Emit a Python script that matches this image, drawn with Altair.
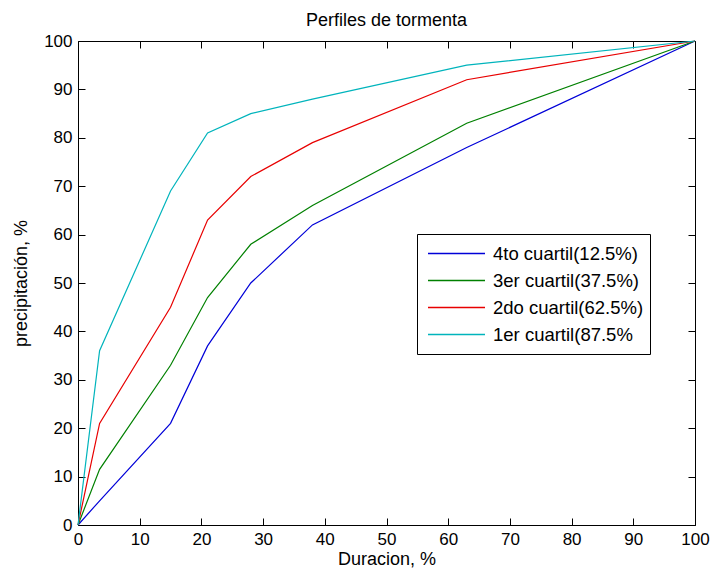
import altair as alt
import pandas as pd

# ---- data ----
duracion = [0, 3.5, 15, 21, 28, 38, 63, 100]
q4 = [0, 5, 21, 37, 50, 62, 78, 100]
q3 = [0, 11.5, 33, 47, 58, 66, 83, 100]
q2 = [0, 21, 45, 63, 72, 79, 92, 100]
q1 = [0, 36, 69, 81, 85, 88, 95, 100]
series_names = ["4to cuartil(12.5%)", "3er cuartil(37.5%)",
                "2do cuartil(62.5%)", "1er cuartil(87.5%"]
series_colors = ["#0000d8", "#008000", "#e80000", "#00b4bc"]
x_ticks = [0, 10, 20, 30, 40, 50, 60, 70, 80, 90, 100]
y_ticks = [0, 10, 20, 30, 40, 50, 60, 70, 80, 90, 100]

rows = []
for name, vals in zip(series_names, [q4, q3, q2, q1]):
    for i, (xv, yv) in enumerate(zip(duracion, vals)):
        rows.append({"serie": name, "orden": i, "duracion": xv, "precip": yv})
df = pd.DataFrame(rows)

FONT = "Liberation Sans"
xscale = alt.Scale(domain=[0, 100], nice=False)
yscale = alt.Scale(domain=[0, 100], nice=False)

lines = alt.Chart(df).mark_line(strokeWidth=1.2).encode(
    x=alt.X("duracion:Q", scale=xscale,
            axis=alt.Axis(orient="bottom", values=x_ticks, offset=-7, tickSize=7,
                          labelPadding=6, title="Duracion, %", titlePadding=3,
                          domain=False, grid=False, labelFlush=False,
                          labelOverlap=False, format="d")),
    y=alt.Y("precip:Q", scale=yscale,
            axis=alt.Axis(orient="left", values=y_ticks, offset=-7, tickSize=7,
                          labelPadding=6, title="precipitación, %", titlePadding=13,
                          domain=False, grid=False, labelFlush=False,
                          labelOverlap=False, format="d")),
    color=alt.Color("serie:N",
                    scale=alt.Scale(domain=series_names, range=series_colors),
                    legend=alt.Legend(title=None, orient="none", legendX=339, legendY=193,
                                      symbolType="stroke", symbolSize=3249,
                                      symbolStrokeWidth=1.5, clipHeight=27,
                                      rowPadding=0, padding=6, symbolOffset=4,
                                      labelOffset=7, labelFontSize=18.5, labelFont=FONT,
                                      labelColor="black", strokeColor="black",
                                      fillColor="white", cornerRadius=0, labelLimit=400)),
    order=alt.Order("orden:Q"),
)

frame = alt.Chart(df).mark_point(opacity=0).encode(
    x=alt.X("duracion:Q", scale=xscale,
            axis=alt.Axis(orient="top", values=x_ticks, offset=-7, tickSize=7,
                          labels=False, title=None, domain=False, grid=False)),
    y=alt.Y("precip:Q", scale=yscale,
            axis=alt.Axis(orient="right", values=y_ticks, offset=-7, tickSize=7,
                          labels=False, title=None, domain=False, grid=False)),
)

chart = alt.layer(lines, frame).resolve_axis(
    x="independent", y="independent"
).properties(
    width=617, height=484,
    title=alt.TitleParams("Perfiles de tormenta", font=FONT, fontSize=18,
                          fontWeight="normal", color="black", offset=2,
                          anchor="middle"),
    padding={"left": 70, "top": 33, "right": 15, "bottom": 45},
    autosize=alt.AutoSizeParams(type="none"),
    background="white",
).configure_view(
    stroke="black", strokeWidth=1
).configure_axis(
    labelFont=FONT, labelFontSize=17, labelColor="black",
    titleFont=FONT, titleFontSize=18, titleFontWeight="normal", titleColor="black",
    tickColor="black", tickWidth=1,
)

chart.save("out.html", embed_options={"renderer": "svg", "actions": False})
